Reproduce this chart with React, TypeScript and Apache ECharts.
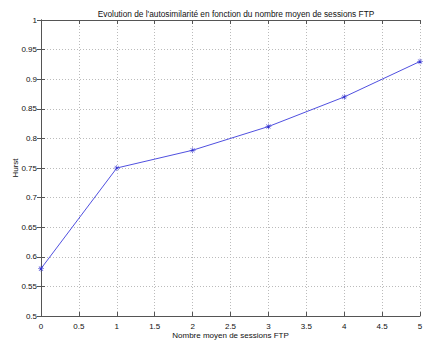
import React, { useEffect, useRef } from "react";
import * as echarts from "echarts";

const xValues = [0, 1, 2, 3, 4, 5];
const hurst = [0.58, 0.75, 0.78, 0.82, 0.87, 0.93];
const titleText = "Evolution de l'autosimilarité en fonction du nombre moyen de sessions FTP";
const xName = "Nombre moyen de sessions FTP";
const yName = "Hurst";

const star =
  "path://M4.6,0H5.4V10H4.6Z M0,4.6H10V5.4H0Z M1.2,1.8L1.8,1.2L8.8,8.2L8.2,8.8Z M8.2,1.2L8.8,1.8L1.8,8.8L1.2,8.2Z";

export default function App() {
  const ref = useRef<HTMLDivElement>(null);
  useEffect(() => {
    const chart = echarts.init(ref.current!, null, { renderer: "svg" });
    const font = "Liberation Sans, Arial, sans-serif";
    const fs = 8;
    const axisLine = { show: true, lineStyle: { color: "#555", width: 1 } };
    const tick = { show: true, inside: true, length: 4, lineStyle: { color: "#555" } };
    const split = { show: true, lineStyle: { color: "#bbb", type: [1, 2] as any, width: 1 } };
    chart.setOption({
      animation: false,
      backgroundColor: "#fff",
      title: {
        text: titleText,
        left: 231,
        textAlign: "center",
        top: 5,
        textStyle: { fontSize: 8.3, fontWeight: "normal", color: "#111", fontFamily: font },
      },
      grid: { left: 41, right: 8, top: 20, bottom: 25, outerBoundsMode: "none", containLabel: false },
      xAxis: [
        {
          type: "value",
          min: 0,
          max: 5,
          interval: 0.5,
          name: xName,
          nameLocation: "middle",
          nameGap: 15,
          nameMoveOverlap: false,
          nameTextStyle: { fontSize: fs, color: "#111", fontFamily: font },
          axisLine,
          axisTick: tick,
          splitLine: split,
          axisLabel: { fontSize: fs, color: "#111", margin: 6, fontFamily: font },
        },
        {
          type: "value",
          position: "top",
          min: 0,
          max: 5,
          interval: 0.5,
          axisLine,
          axisTick: tick,
          splitLine: { show: false },
          axisLabel: { show: false },
        },
      ],
      yAxis: [
        {
          type: "value",
          min: 0.5,
          max: 1,
          interval: 0.05,
          name: yName,
          nameLocation: "middle",
          nameGap: 22,
          nameMoveOverlap: false,
          nameTextStyle: { fontSize: fs, color: "#111", fontFamily: font },
          axisLine,
          axisTick: tick,
          splitLine: split,
          axisLabel: {
            fontSize: fs,
            color: "#111",
            margin: 4,
            fontFamily: font,
            formatter: (v: number) => String(parseFloat(v.toFixed(2))),
          },
        },
        {
          type: "value",
          position: "right",
          min: 0.5,
          max: 1,
          interval: 0.05,
          axisLine,
          axisTick: tick,
          splitLine: { show: false },
          axisLabel: { show: false },
        },
      ],
      series: [
        {
          type: "line",
          data: xValues.map((x, i) => [x, hurst[i]]),
          lineStyle: { color: "#5050e0", width: 1 },
          itemStyle: { color: "#3030d0" },
          symbol: star,
          symbolSize: 6,
          showSymbol: true,
        },
      ],
    });
    return () => chart.dispose();
  }, []);
  return (
    <div
      ref={ref}
      style={{ position: "fixed", left: 0, top: 0, width: 428, height: 341, background: "#fff" }}
    />
  );
}
